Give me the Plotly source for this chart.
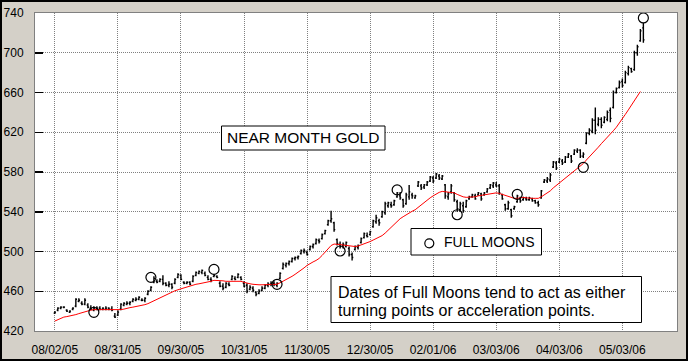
import plotly.graph_objects as go
import pandas as pd

# ---------------- data ----------------
first_day = "2005-08-02"
last_day = "2006-05-12"
holidays = ["2005-09-05", "2005-11-24", "2005-12-26", "2006-01-02",
            "2006-01-16", "2006-02-20", "2006-04-14"]

x_tick_labels = ["08/02/05", "08/31/05", "09/30/05", "10/31/05", "11/30/05",
                 "12/30/05", "02/01/06", "03/03/06", "04/03/06", "05/03/06"]
y_ticks = [420, 460, 500, 540, 580, 620, 660, 700, 740]

opens = [
    438, 441, 443, 444, 441, 439, 442, 445, 450, 448,
    447, 446, 443, 441, 442, 443, 442, 442, 443, 442,
    435, 436, 442, 446, 447, 448, 450, 451, 452, 451,
    451, 457, 461, 469, 470, 470, 472, 468, 466, 467,
    468, 474, 476, 469, 468, 469, 470, 476, 478, 479,
    478, 474, 472, 475, 475, 468, 465, 464, 467, 472,
    473, 474, 474, 468, 466, 462, 463, 459, 458, 461,
    463, 466, 467, 468, 466, 473, 483, 486, 488, 490,
    493, 494, 498, 500, 499, 502, 505, 508, 511, 513,
    518, 527, 531, 529, 512, 507, 506, 505, 503, 497,
    502, 504, 509, 514, 516, 517, 525, 530, 531, 535,
    539, 546, 547, 547, 555, 556, 552, 548, 555, 557,
    554, 566, 566, 565, 567, 571, 574, 574, 576, 573,
    567, 555, 560, 559, 550, 542, 546, 545, 553, 555,
    556, 557, 558, 557, 560, 564, 566, 567, 566, 557,
    547, 543, 542, 543, 550, 553, 552, 553, 552, 553,
    551, 549, 554, 570, 571, 572, 585, 589, 590, 591,
    590, 595, 596, 598, 601, 602, 596, 609, 619, 621,
    632, 628, 633, 630, 633, 642, 645, 660, 665, 671,
    670, 679, 684, 683, 700, 712, 725]

highs = [
    440, 444, 445, 445, 442, 441, 444, 453, 453, 450,
    453, 448, 446, 445, 445, 445, 444, 445, 444, 445,
    438, 441, 448, 449, 450, 450, 453, 454, 455, 453,
    454, 461, 465, 475, 472, 473, 476, 469, 470, 468,
    473, 478, 477, 470, 470, 470, 476, 480, 481, 482,
    480, 476, 474, 477, 476, 470, 468, 469, 469, 476,
    475, 478, 475, 470, 468, 466, 465, 460, 462, 465,
    467, 469, 470, 470, 469, 479, 489, 489, 491, 494,
    495, 496, 502, 503, 501, 506, 508, 513, 513, 518,
    522, 532, 541, 530, 513, 510, 509, 510, 505, 499,
    506, 507, 514, 519, 519, 521, 532, 537, 533, 541,
    550, 550, 550, 552, 560, 560, 553, 559, 567, 559,
    557, 571, 568, 568, 571, 576, 576, 579, 578, 577,
    568, 560, 568, 560, 552, 550, 550, 552, 556, 558,
    558, 560, 559, 560, 564, 568, 570, 570, 568, 558,
    548, 551, 543, 546, 557, 555, 555, 555, 555, 554,
    552, 551, 562, 573, 575, 579, 591, 591, 594, 593,
    596, 599, 597, 603, 604, 603, 600, 620, 624, 634,
    645, 635, 635, 636, 642, 645, 662, 665, 672, 674,
    682, 687, 685, 702, 708, 724, 730]

lows = [
    437, 440, 442, 443, 439, 438, 441, 444, 449, 446,
    446, 443, 441, 440, 441, 441, 441, 441, 441, 440,
    433, 435, 441, 445, 446, 446, 449, 450, 451, 450,
    449, 456, 460, 468, 468, 469, 466, 465, 464, 462,
    467, 473, 471, 467, 467, 466, 469, 475, 477, 477,
    475, 471, 469, 474, 473, 464, 461, 463, 465, 471,
    471, 473, 471, 464, 458, 461, 459, 455, 457, 460,
    462, 464, 465, 465, 464, 472, 482, 484, 486, 489,
    491, 492, 497, 498, 496, 501, 503, 507, 508, 512,
    517, 526, 529, 520, 506, 503, 503, 504, 495, 491,
    501, 502, 508, 513, 514, 516, 524, 528, 526, 534,
    537, 544, 544, 546, 554, 552, 544, 547, 552, 553,
    553, 565, 562, 563, 566, 570, 569, 573, 572, 572,
    553, 552, 558, 550, 540, 540, 539, 544, 552, 554,
    552, 556, 551, 556, 559, 563, 564, 565, 557, 552,
    541, 542, 534, 542, 549, 549, 551, 551, 551, 550,
    548, 545, 553, 569, 569, 570, 584, 582, 589, 587,
    589, 594, 589, 597, 599, 594, 594, 608, 617, 619,
    618, 626, 624, 629, 631, 630, 644, 659, 664, 665,
    669, 677, 680, 682, 697, 711, 710]

closes = [
    439, 443, 444, 444, 440, 440, 443, 452, 451, 447,
    451, 444, 442, 443, 443, 442, 443, 443, 442, 441,
    434, 439, 447, 448, 448, 449, 452, 452, 454, 451,
    453, 460, 464, 473, 469, 472, 468, 466, 467, 464,
    472, 477, 472, 468, 469, 467, 475, 479, 480, 481,
    476, 472, 471, 476, 474, 465, 463, 468, 466, 475,
    472, 477, 472, 465, 460, 464, 461, 457, 460, 463,
    466, 467, 468, 467, 468, 478, 487, 488, 490, 493,
    494, 495, 501, 501, 497, 505, 507, 512, 510, 517,
    521, 531, 533, 522, 508, 505, 507, 509, 497, 494,
    505, 506, 513, 518, 515, 520, 531, 534, 529, 540,
    548, 549, 546, 551, 559, 554, 546, 557, 560, 556,
    556, 570, 564, 567, 570, 575, 571, 578, 574, 576,
    556, 558, 566, 552, 543, 548, 541, 551, 555, 557,
    553, 559, 553, 559, 563, 567, 569, 566, 559, 553,
    543, 549, 536, 545, 556, 551, 554, 552, 554, 551,
    549, 547, 561, 572, 573, 577, 590, 584, 593, 589,
    595, 598, 591, 602, 602, 596, 598, 619, 622, 632,
    622, 633, 627, 635, 640, 634, 660, 664, 670, 667,
    680, 685, 681, 700, 706, 722, 713]

moving_avg = [
    430, 431.5, 433, 434, 434.5, 435, 435.5, 436.5, 437.5, 438.5,
    439.5, 440.5, 441, 441.5, 441.5, 441.5, 441.5, 441.5, 441, 441,
    441, 441, 441.5, 442, 443, 443.5, 444, 444.5, 445, 445.5,
    446.5, 447.5, 449, 450.5, 452, 453.5, 455, 456.5, 458, 459.5,
    460.5, 461.5, 462.5, 463.5, 464.5, 465.5, 466.5, 467, 467.5, 468,
    468.5, 469.5, 470, 471, 471, 470.5, 470.5, 470, 470, 470,
    470, 470.5, 470, 469, 468, 467.5, 467, 466.5, 466.5, 466.5,
    466.5, 466.5, 466.5, 467, 467, 468.5, 470, 471.5, 473, 475,
    477, 479, 481.5, 483.5, 486, 488, 489.5, 491, 493, 496,
    499, 502.5, 506, 507.5, 507.5, 507, 506.5, 506, 505.5, 505,
    505, 505.5, 506.5, 507.5, 508.5, 510, 511.5, 513, 514.5, 516,
    518.5, 521.5, 524.5, 527.5, 531, 533, 535, 537, 539, 540.5,
    542, 544.5, 547, 549.5, 552, 554, 556, 558, 559.5, 560.5,
    560, 559.5, 559.5, 559, 557.5, 556, 555, 554.5, 554.5, 555,
    555, 556, 556.5, 557, 557.5, 558, 558.5, 559, 558.5, 557.5,
    556, 555, 554, 553.5, 553.5, 554, 554.5, 554, 553.5, 553.5,
    553.5, 553.5, 555, 557, 559, 561, 564, 566.5, 569, 571.5,
    574, 576, 578.5, 581, 583.5, 586, 588.5, 592, 595, 598,
    601.5, 605, 608.5, 611.5, 614.5, 618, 621.5, 625, 629, 633.5,
    638, 642.5, 647, 651.5, 656, 661]

moon_dates = ["2005-08-19", "2005-09-16", "2005-10-17", "2005-11-15", "2005-12-15",
              "2006-01-13", "2006-02-13", "2006-03-14", "2006-04-13", "2006-05-12"]
moon_values = [438.8, 474, 482, 467, 500.5, 562, 537, 557.5, 584.7, 735]

title_text = "NEAR MONTH GOLD"
legend_text = "FULL MOONS"
note_lines = ["Dates of Full Moons tend to act as either",
              "turning points or acceleration points."]

# ---------------- trading-day axis ----------------
days = pd.bdate_range(first_day, last_day)
days = [d for d in days if d.strftime("%Y-%m-%d") not in holidays]
pos = {d.strftime("%Y-%m-%d"): i for i, d in enumerate(days)}
x_bars = list(range(len(closes)))
x_ma = list(range(len(moving_avg)))
tick_vals = [pos[pd.to_datetime(t, format="%m/%d/%y").strftime("%Y-%m-%d")]
             for t in x_tick_labels]
moon_x = [pos[d] for d in moon_dates]

# ---------------- geometry helpers (pixel -> paper) ----------------
W, H = 688, 361
L, R, T, B = 35, 11, 13, 30
PW, PH = W - L - R, H - T - B


def px(x):
    return (x - L) / PW


def py(y):
    return (H - B - y) / PH


FONT = "Liberation Sans, Arial, sans-serif"
GRID_DASH = "1px,1px"

fig = go.Figure()

fig.add_trace(go.Ohlc(
    x=x_bars, open=opens, high=highs, low=lows, close=closes,
    increasing=dict(line=dict(color="black", width=1.4)),
    decreasing=dict(line=dict(color="black", width=1.4)),
    tickwidth=0.4, hoverinfo="skip", showlegend=False))

fig.add_trace(go.Scatter(
    x=x_ma, y=moving_avg, mode="lines",
    line=dict(color="#ff0000", width=1),
    hoverinfo="skip", showlegend=False))

fig.add_trace(go.Scatter(
    x=moon_x, y=moon_values, mode="markers",
    marker=dict(symbol="circle-open", size=10, color="black",
                line=dict(width=1.2, color="black")),
    hoverinfo="skip", showlegend=False))

shapes = [
    # outer window frame
    dict(type="rect", xref="paper", yref="paper",
         x0=px(1), x1=px(W - 1), y0=py(H - 1), y1=py(1),
         line=dict(color="black", width=2), fillcolor="rgba(0,0,0,0)", layer="above"),
    # title box
    dict(type="rect", xref="paper", yref="paper",
         x0=px(221.5), x1=px(385), y0=py(150), y1=py(126),
         line=dict(color="black", width=1), fillcolor="white", layer="above"),
    # legend box
    dict(type="rect", xref="paper", yref="paper",
         x0=px(411), x1=px(541.5), y0=py(255), y1=py(228.5),
         line=dict(color="black", width=1), fillcolor="white", layer="above"),
    # legend circle
    dict(type="circle", xref="paper", yref="paper",
         x0=px(424.8), x1=px(433.8), y0=py(247.8), y1=py(238.8),
         line=dict(color="black", width=1.2), fillcolor="rgba(0,0,0,0)", layer="above"),
    # note box
    dict(type="rect", xref="paper", yref="paper",
         x0=px(331), x1=px(641.5), y0=py(322.5), y1=py(276.5),
         line=dict(color="black", width=1), fillcolor="white", layer="above"),
]

annotations = [
    dict(text=title_text, xref="paper", yref="paper", x=px(303.3), y=py(137.5),
         xanchor="center", yanchor="middle", showarrow=False,
         font=dict(family=FONT, size=15.5, color="black")),
    dict(text=legend_text, xref="paper", yref="paper", x=px(442), y=py(242),
         xanchor="left", yanchor="middle", showarrow=False,
         font=dict(family=FONT, size=14, color="black")),
    dict(text=note_lines[0], xref="paper", yref="paper", x=px(336), y=py(292),
         xanchor="left", yanchor="middle", showarrow=False,
         font=dict(family=FONT, size=16, color="black")),
    dict(text=note_lines[1], xref="paper", yref="paper", x=px(336), y=py(310.5),
         xanchor="left", yanchor="middle", showarrow=False,
         font=dict(family=FONT, size=16, color="black")),
]

fig.update_layout(
    width=W, height=H,
    margin=dict(l=L, r=R, t=T, b=B, pad=0, autoexpand=False),
    paper_bgcolor="#d4d0c8", plot_bgcolor="white",
    showlegend=False, hovermode=False,
    shapes=shapes, annotations=annotations,
    font=dict(family=FONT, size=12, color="black"),
)

fig.update_xaxes(
    range=[-6.6, 207.2], tickmode="array", tickvals=tick_vals, ticktext=x_tick_labels,
    ticks="", showgrid=True, gridcolor="#808080", griddash=GRID_DASH, gridwidth=1,
    showline=True, linecolor="#808080", linewidth=1, mirror=True, zeroline=False,
    tickfont=dict(family=FONT, size=12, color="black"), ticklabelstandoff=8,
    rangeslider=dict(visible=False), fixedrange=True, automargin=False)

fig.update_yaxes(
    range=[420, 740], tickmode="array", tickvals=y_ticks,
    ticks="inside", ticklen=8, tickwidth=1.5, tickcolor="black",
    showgrid=True, gridcolor="#808080", griddash=GRID_DASH, gridwidth=1,
    showline=True, linecolor="#808080", linewidth=1, mirror=True, zeroline=False,
    tickfont=dict(family=FONT, size=12, color="black"), ticklabelstandoff=8,
    fixedrange=True, automargin=False)

fig.write_html("out.html",
               config={"displayModeBar": False, "staticPlot": True},
               post_script="document.body.style.margin='0';"
                           "document.body.style.padding='0';"
                           "document.body.style.overflow='hidden';")
